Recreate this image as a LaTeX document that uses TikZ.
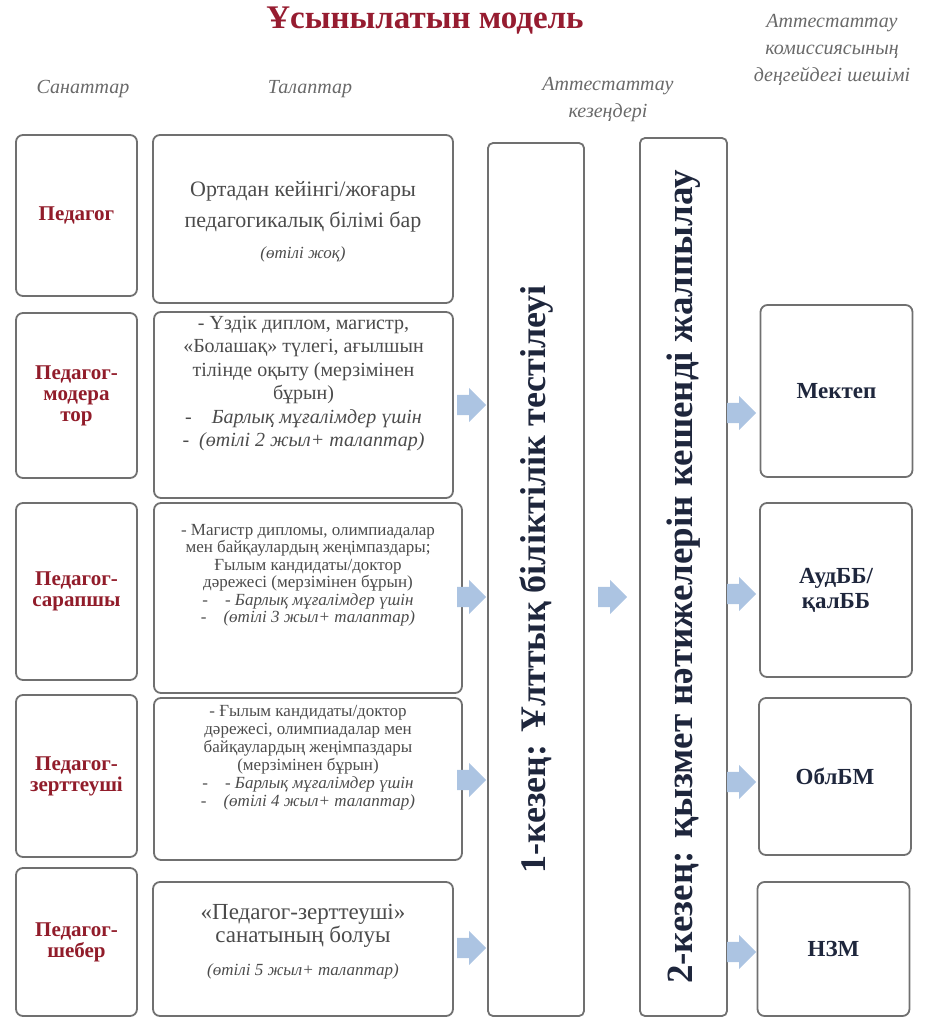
\documentclass[tikz,border=0pt]{standalone}
\usepackage{fontspec}
\setmainfont{Liberation Serif}
\usetikzlibrary{shapes.arrows, positioning}

\definecolor{titlered}{RGB}{150,28,48}
\definecolor{catred}{RGB}{145,28,42}
\definecolor{hdrgray}{RGB}{105,105,105}
\definecolor{txtgray}{RGB}{75,75,75}
\definecolor{decnavy}{RGB}{30,38,60}
\definecolor{boxgray}{RGB}{112,112,112}
\definecolor{arrowblue}{RGB}{172,196,226}

\newcommand{\fsz}[2]{\fontsize{#1}{#2}\selectfont}

\tikzstyle{catbox} = [rectangle, rounded corners=7pt,
minimum width=121pt,
text centered, align=center,
draw=boxgray, line width=1.8pt,
text=catred,
font=\bfseries\fsz{21}{21}]
\tikzstyle{reqbox} = [rectangle, rounded corners=7pt,
draw=boxgray, line width=1.8pt]
\tikzstyle{reqtext} = [align=center, text=txtgray, inner sep=0pt]
\tikzstyle{stagebox} = [rectangle, rounded corners=5pt,
rotate=90, text centered,
draw=boxgray, line width=1.8pt,
text=decnavy,
font=\bfseries\fsz{36}{40}]
\tikzstyle{decbox} = [rectangle, rounded corners=7pt,
align=center, minimum width=152pt,
draw=boxgray, line width=1.8pt,
text=decnavy, font=\bfseries\fsz{23}{25}]
\tikzstyle{hdr} = [align=center, text=hdrgray, font=\itshape\fsz{20}{27}]
\tikzstyle{blockarrow} = [single arrow, single arrow head extend=7pt,
minimum height=29pt, inner ysep=10pt, inner xsep=0pt,
anchor=west, fill=arrowblue, draw=none]

\begin{document}
\begin{tikzpicture}[x=1pt, y=-1pt]
\useasboundingbox (0,0) rectangle (936,1019);

% headings
\node (title) [anchor=base, font=\bfseries\fsz{33}{38}, text=titlered] at (425,29) {Ұсынылатын модель};
\node (hcat) [hdr] at (83,89) {Санаттар};
\node (hreq) [hdr] at (310,89) {Талаптар};
\node (hstage) [hdr] at (608,100) {Аттестаттау\\кезеңдері};
\node (hdec) [hdr] at (832,50) {Аттестаттау\\комиссиясының\\деңгейдегі шешімі};

% categories
\node (cat1) [catbox, minimum height=161pt] at (76.5,215.5) {Педагог};
\node (cat2) [catbox, minimum height=165pt] at (76.5,395.5) {Педагог-\\модера\\тор};
\node (cat3) [catbox, minimum height=177pt] at (76.5,591.5) {Педагог-\\сарапшы};
\node (cat4) [catbox, minimum height=162pt] at (76.5,776) {Педагог-\\зерттеуші};
\node (cat5) [catbox, minimum height=148pt] at (76.5,942) {Педагог-\\шебер};

% requirements
\node (req1) [reqbox, minimum width=300pt, minimum height=168pt] at (303,219) {};
\node (req2) [reqbox, minimum width=299pt, minimum height=186pt] at (303.5,405) {};
\node (req3) [reqbox, minimum width=308pt, minimum height=190pt] at (308,598) {};
\node (req4) [reqbox, minimum width=308pt, minimum height=162pt] at (308,779) {};
\node (req5) [reqbox, minimum width=300pt, minimum height=134pt] at (303,949) {};

\node (req1txt) [reqtext, font=\fsz{22}{31}] at ([yshift=-3pt]req1.center)
  {Ортадан кейінгі/жоғары\\педагогикалық білімі бар\\\fsz{17}{26}\textit{(өтілі жоқ)}};
\node (req2txt) [reqtext, font=\fsz{20}{23.5}] at ([yshift=21.5pt]req2.center)
  {- Үздік диплом, магистр,\\«Болашақ» түлегі, ағылшын\\тілінде оқыту (мерзімінен\\бұрын)\\
   -\quad\textit{Барлық мұғалімдер үшін}\\-\enspace\textit{(өтілі 2 жыл+ талаптар)}};
\node (req3txt) [reqtext, font=\fsz{17}{17.5}] at ([yshift=23pt]req3.center)
  {- Магистр дипломы, олимпиадалар\\мен байқаулардың жеңімпаздары;\\Ғылым кандидаты/доктор\\дәрежесі (мерзімінен бұрын)\\
   -\quad\textit{- Барлық мұғалімдер үшін}\\-\quad\textit{(өтілі 3 жыл+ талаптар)}};
\node (req4txt) [reqtext, font=\fsz{17}{18}] at ([yshift=21pt]req4.center)
  {- Ғылым кандидаты/доктор\\дәрежесі, олимпиадалар мен\\байқаулардың жеңімпаздары\\(мерзімінен бұрын)\\
   -\quad\textit{- Барлық мұғалімдер үшін}\\-\quad\textit{(өтілі 4 жыл+ талаптар)}};
\node (req5txt) [reqtext, font=\fsz{23}{23}] at ([yshift=7pt]req5.center)
  {«Педагог-зерттеуші»\\санатының болуы\\[10pt]\fsz{17}{17}\textit{(өтілі 5 жыл+ талаптар)}};

% stages
\node (stage1) [stagebox, minimum width=873pt, minimum height=96pt] at (536,579.5)
  {1-кезең: Ұлттық біліктілік тестілеуі};
\node (stage2) [stagebox, minimum width=878pt, minimum height=87pt, font=\bfseries\fsz{37}{40}] at (683.5,577)
  {2-кезең: қызмет нәтижелерін кешенді жалпылау};

% decisions
\node (dec1) [decbox, minimum height=172pt] at (836.5,391) {Мектеп};
\node (dec2) [decbox, minimum height=174pt] at (836,590) {АудББ/\\қалББ};
\node (dec3) [decbox, minimum height=157pt] at (835,776.5) {ОблБМ};
\node (dec4) [decbox, minimum height=134pt] at (833.5,949) {НЗМ};

% arrows
\node (a2) [blockarrow] at (457,405) {};
\node (a3) [blockarrow] at (457,597) {};
\node (a4) [blockarrow] at (457,780) {};
\node (a5) [blockarrow] at (457,948) {};
\node (a6) [blockarrow] at (598,597) {};
\node (a7) [blockarrow] at (727,413) {};
\node (a8) [blockarrow] at (727,594) {};
\node (a9) [blockarrow] at (727,782) {};
\node (a10) [blockarrow] at (727,952) {};

\end{tikzpicture}
\end{document}
